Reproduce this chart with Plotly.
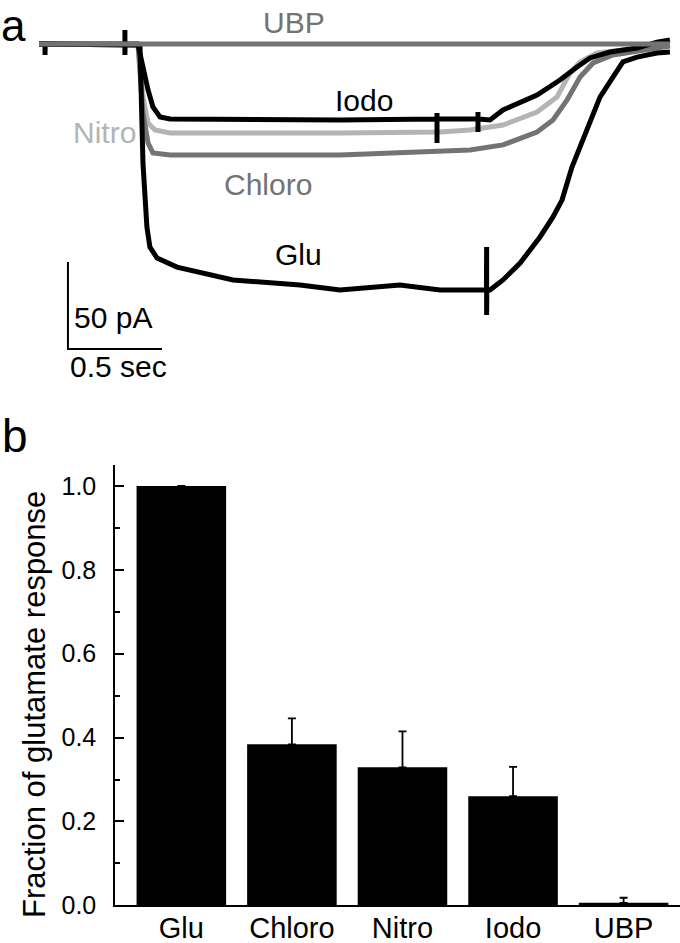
import plotly.graph_objects as go

# ---- panel a: whole-cell currents (time in s, current in pA) ----
glu_t = [0, 0.032, 0.032, 0.033, 0.457, 0.457, 0.457, 0.458, 0.527, 0.537, 0.553, 0.574, 0.590,
         0.628, 0.734, 0.910, 1.032, 1.388, 1.601, 1.920, 2.133, 2.380, 2.381, 2.381, 2.382, 2.399, 2.468,
         2.559, 2.665, 2.734, 2.782, 2.835, 2.915, 2.984, 3.053, 3.106, 3.181, 3.287, 3.356]
glu_i = [0, 0, -6.3, 0, 0, 8.0, -6.3, 0, 0, -0.6, -68.4, -105.2, -116.7,
         -123.0, -128.2, -132.8, -135.6, -138.5, -141.4, -138.5, -141.4, -141.4, -116.7, -155.7, -141.4, -141.4, -135.6,
         -125.9, -110.9, -99.4, -89.7, -70.7, -49.4, -30.5, -19.0, -10.3, -7.5, -5.2, -4.6]

iodo_t = [0, 0.527, 0.580, 0.606, 0.644, 0.697, 1.601, 2.117, 2.117, 2.117, 2.117, 2.335, 2.335,
          2.335, 2.335, 2.399, 2.468, 2.649, 2.771, 2.862, 2.931, 3.037, 3.181, 3.287, 3.356]
iodo_i = [0, -0.6, -26.4, -36.2, -42.0, -43.1, -43.7, -43.1, -56.9, -39.7, -43.1, -43.1, -50.6,
          -39.1, -43.1, -43.7, -37.9, -29.3, -20.7, -13.2, -8.0, -4.6, -2.3, 1.1, 2.3]

nitro_t = [0, 0.527, 0.553, 0.580, 0.617, 0.697, 1.601, 2.133, 2.293, 2.468, 2.649, 2.755, 2.824,
           2.878, 2.968, 3.144, 3.356]
nitro_i = [0, -0.6, -30.5, -45.4, -49.4, -51.1, -51.1, -50.6, -49.4, -46.6, -39.1, -30.5, -16.7,
           -10.3, -5.2, -3.4, -0.6]

chloro_t = [0, 0.527, 0.553, 0.580, 0.606, 0.697, 1.601, 2.133, 2.293, 2.468, 2.649, 2.734, 2.809,
            2.878, 2.947, 3.053, 3.213, 3.356]
chloro_i = [0, -0.6, -39.7, -56.9, -62.6, -63.8, -63.8, -62.1, -60.9, -58.0, -50.6, -43.7, -32.2,
            -19.0, -10.9, -6.3, -3.4, -1.1]

ubp_t = [0, 3.356]
ubp_i = [0, 0]

trace_labels = ['Nitro', 'Chloro', 'Iodo', 'Glu', 'UBP']
trace_colors = ['#b4b4b4', '#737373', 'black', 'black', '#737373']
trace_t = [nitro_t, chloro_t, iodo_t, glu_t, ubp_t]
trace_i = [nitro_i, chloro_i, iodo_i, glu_i, ubp_i]
# where each trace name is written (s, pA)
label_t = [0.346, 1.218, 1.729, 1.378, 1.356]
label_i = [-51.1, -80.5, -32.2, -120.7, 12.6]

# scale bar
bar_origin_t, bar_origin_i = 0.154, -175.3
bar_len_t, bar_len_i = 0.5, 50

# ---- panel b: fraction of glutamate response ----
categories = ['Glu', 'Chloro', 'Nitro', 'Iodo', 'UBP']
fractions = [1.0, 0.384, 0.329, 0.260, 0.006]
errors = [0.0, 0.062, 0.086, 0.070, 0.012]

FONT = 'Arial, Liberation Sans, sans-serif'
W, H = 680, 943

fig = go.Figure()

for name, t, i, color in zip(trace_labels, trace_t, trace_i, trace_colors):
    fig.add_trace(go.Scatter(x=t, y=i, mode='lines', name=name, line=dict(color=color, width=5),
                             xaxis='x2', yaxis='y2', showlegend=False, hoverinfo='skip'))

fig.add_trace(go.Scatter(
    x=[bar_origin_t, bar_origin_t, bar_origin_t + bar_len_t],
    y=[bar_origin_i + bar_len_i, bar_origin_i, bar_origin_i],
    mode='lines', line=dict(color='black', width=2),
    xaxis='x2', yaxis='y2', showlegend=False, hoverinfo='skip'))

fig.add_trace(go.Bar(
    x=categories, y=fractions, width=0.81, marker=dict(color='black', line=dict(width=0)),
    error_y=dict(type='data', array=errors, arrayminus=[0] * len(errors), symmetric=False,
                 color='black', thickness=1.8, width=4),
    showlegend=False))

annotations = []
for name, t, i, color in zip(trace_labels, label_t, label_i, trace_colors):
    annotations.append(dict(x=t, y=i, xref='x2', yref='y2', text=name, showarrow=False,
                            xanchor='center', yanchor='middle',
                            font=dict(family=FONT, size=30, color=color)))
annotations += [
    dict(x=bar_origin_t + 0.02, y=bar_origin_i + 18, xref='x2', yref='y2', text='50 pA',
         showarrow=False, xanchor='left', yanchor='middle', font=dict(family=FONT, size=30, color='black')),
    dict(x=bar_origin_t + 0.0, y=bar_origin_i - 10, xref='x2', yref='y2', text='0.5 sec',
         showarrow=False, xanchor='left', yanchor='middle', font=dict(family=FONT, size=30, color='black')),
    dict(x=0, y=1, xref='paper', yref='paper', text='a', showarrow=False, borderpad=0,
         xanchor='left', yanchor='top', font=dict(family=FONT, size=44, color='black')),
    dict(x=0, y=1 - 436 / H, xref='paper', yref='paper', text='b', showarrow=False,
         xanchor='left', yanchor='middle', font=dict(family=FONT, size=46, color='black')),
    dict(x=34 / W, y=1 - 705 / H, xref='paper', yref='paper', text='Fraction of glutamate response',
         textangle=-90, showarrow=False, xanchor='center', yanchor='middle',
         font=dict(family=FONT, size=31, color='black')),
]

px_per_s = 188
px_per_pA = 87 / 50
fig.update_layout(
    width=W, height=H, margin=dict(l=0, r=0, t=0, b=0),
    paper_bgcolor='white', plot_bgcolor='white',
    font=dict(family=FONT, color='black'),
    xaxis=dict(domain=[115 / W, 1], range=[-0.6, 4.51], anchor='y', showline=True, linecolor='black',
               linewidth=1.5, ticks='', showgrid=False, zeroline=False, automargin=False,
               tickfont=dict(size=29), ticklabelstandoff=-4),
    yaxis=dict(domain=[1 - 905.3 / H, 1 - 465 / H], range=[0, 1.05], anchor='x', showline=True,
               linecolor='black', linewidth=1.5, ticks='inside', ticklen=9, tickwidth=1.5,
               tickcolor='black', dtick=0.2, tick0=0, tickformat='.1f', showgrid=False,
               zeroline=False, automargin=False, tickfont=dict(size=25), ticklabelstandoff=12,
               minor=dict(ticks='inside', ticklen=5, tickwidth=1.5, tickcolor='black', dtick=0.1)),
    xaxis2=dict(domain=[0, 1], range=[-39 / px_per_s, (W - 39) / px_per_s], anchor='y2',
                visible=False),
    yaxis2=dict(domain=[1 - 424.35 / H, 1], range=[-(424.35 - 44) / px_per_pA, 44 / px_per_pA],
                anchor='x2', visible=False),
    annotations=annotations,
)

# drop the default 8px page margin so the figure sits at the window's corner
fig.write_html('out.html', config={'displayModeBar': False},
               post_script="document.body.style.margin='0px';")
